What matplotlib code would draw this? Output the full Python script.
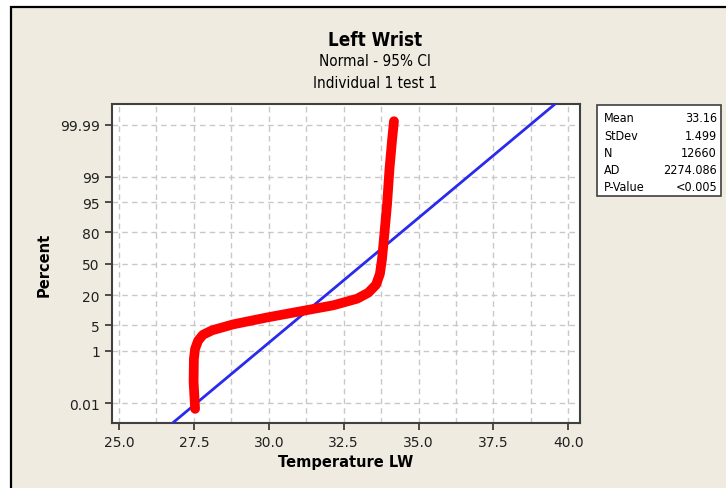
import numpy as np
import matplotlib
matplotlib.use("Agg")
import matplotlib.pyplot as plt
from matplotlib.patches import Rectangle
from statistics import NormalDist

# summary stats shown in the box
mean = 33.16
stdev = 1.499
n = 12660
ad = 2274.086
stat_labels = ["Mean", "StDev", "N", "AD", "P-Value"]
stat_values = ["33.16", "1.499", "12660", "2274.086", "<0.005"]

# data curve (temperature, percent)
temp = [27.54, 27.49, 27.50, 27.54, 27.64, 27.80, 28.11, 28.81, 29.94, 31.04,
        32.15, 32.95, 33.32, 33.58, 33.71, 33.78, 33.86, 33.95, 34.03, 34.12, 34.18]
pct = [0.0054, 0.082, 0.56, 1.16, 2.0, 2.9, 3.8, 5.3, 7.6, 10.2,
       13.4, 17.6, 22.0, 28.8, 39.4, 55.0, 78.8, 94.5, 99.44, 99.958, 99.993]

yticks = [0.01, 1, 5, 20, 50, 80, 95, 99, 99.99]
ytick_labels = ["0.01", "1", "5", "20", "50", "80", "95", "99", "99.99"]
xticks = [25.0, 27.5, 30.0, 32.5, 35.0, 37.5, 40.0]

std = NormalDist()
_ppf = np.vectorize(lambda p: std.inv_cdf(min(max(p / 100.0, 1e-12), 1 - 1e-12)),
                    otypes=[float])
_cdf = np.vectorize(lambda z: 100.0 * std.cdf(z), otypes=[float])

def fwd(p):
    return _ppf(np.asarray(p, dtype=float))

def inv(z):
    return _cdf(np.asarray(z, dtype=float))

bg = "#efebe0"
fig = plt.figure(figsize=(7.26, 4.89), dpi=100)
fig.patch.set_facecolor("white")
fig.patches.append(Rectangle((10.5 / 726, -0.05), 1.1, (489 - 7.5) / 489 + 0.05,
                             transform=fig.transFigure, facecolor=bg,
                             edgecolor="black", linewidth=1.6, zorder=-10))

ax = fig.add_axes([111.7 / 726, 1 - 424 / 489, (580 - 111.7) / 726, (424 - 105.3) / 489])
ax.set_facecolor("white")
ax.set_yscale("function", functions=(fwd, inv))
ax.set_ylim(float(inv(-4.25)), float(inv(4.26)))
ax.set_xlim(24.756, 40.39)

ax.set_yticks(yticks)
ax.set_yticklabels(ytick_labels)
ax.yaxis.set_minor_locator(matplotlib.ticker.NullLocator())
ax.set_xticks(xticks)
ax.set_xticklabels([f"{t:.1f}" for t in xticks])
ax.set_xticks(np.arange(26.25, 40, 2.5), minor=True)
ax.tick_params(axis="x", which="minor", length=0)
ax.tick_params(axis="both", which="major", direction="out", length=5, width=1.2,
               color="#303030", labelsize=10, labelcolor="#202020")

ax.grid(True, which="both", axis="x", linestyle=(0, (4, 3)), color="#c8c8c8", linewidth=1)
ax.grid(True, which="major", axis="y", linestyle=(0, (4, 3)), color="#c8c8c8", linewidth=1)
ax.set_axisbelow(True)
for s in ax.spines.values():
    s.set_color("#404040")
    s.set_linewidth(1.5)

# fitted normal line
fx = np.array([26.5, 39.7])
ax.plot(fx, [100 * NormalDist(mean, stdev).cdf(v) for v in fx], color="#2a2aee",
        linewidth=2.0, zorder=3)

# data
ax.plot(temp, pct, color="red", linewidth=7, solid_capstyle="round",
        solid_joinstyle="round", zorder=4)

ax.set_xlabel("Temperature LW", fontsize=10.5, fontweight="bold", labelpad=4)
ax.set_ylabel("Percent", fontsize=10.5, fontweight="bold", labelpad=6)

fig.text(375 / 726, 1 - 41 / 489, "Left Wrist", ha="center", va="center",
         fontsize=13.5, fontweight="bold", fontstretch="condensed")
fig.text(375 / 726, 1 - 62 / 489, "Normal - 95% CI", ha="center", va="center",
         fontsize=11, fontstretch="condensed")
fig.text(375 / 726, 1 - 84 / 489, "Individual 1 test 1", ha="center", va="center",
         fontsize=11, fontstretch="condensed")

# stats box
fig.patches.append(Rectangle((597 / 726, 1 - 197 / 489), 124 / 726, 91 / 489,
                             transform=fig.transFigure, facecolor="white",
                             edgecolor="#404040", linewidth=1.2, zorder=1))
for i, (lab, val) in enumerate(zip(stat_labels, stat_values)):
    yy = 1 - (119 + 17.2 * i) / 489
    fig.text(604 / 726, yy, lab, ha="left", va="center", fontsize=9,
             fontstretch="condensed", color="black", zorder=2)
    fig.text(717 / 726, yy, val, ha="right", va="center", fontsize=9,
             fontstretch="condensed", color="black", zorder=2)

fig.savefig("out.png", dpi=100, facecolor=fig.get_facecolor())
